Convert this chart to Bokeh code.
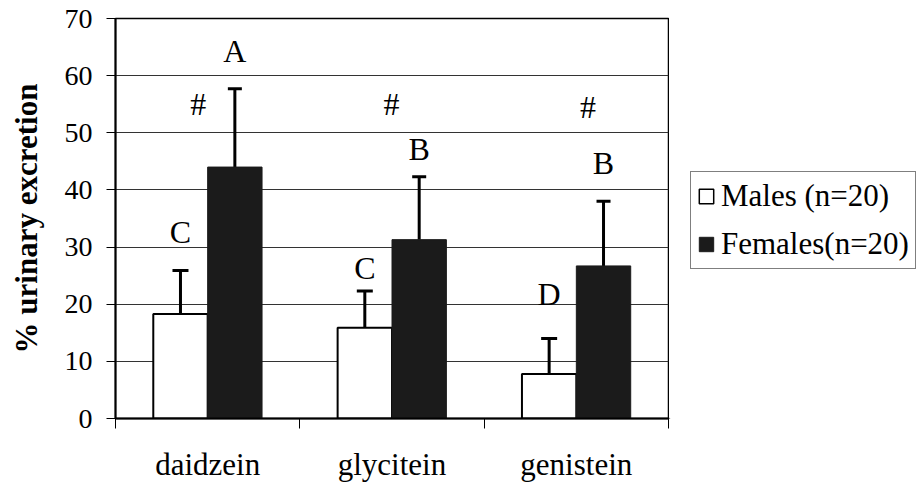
from bokeh.plotting import figure
from bokeh.layouts import row
from bokeh.models import (ColumnDataSource, Range1d, FixedTicker, Whisker, TeeHead,
                          Legend, LegendItem)
from bokeh.core.properties import value
from bokeh.embed import file_html
from bokeh.resources import INLINE

# ---- data ----
categories = ["daidzein", "glycitein", "genistein"]
males_mean = [18.3, 15.9, 7.8]
males_sd = [7.6, 6.4, 6.2]
females_mean = [44.0, 31.3, 26.7]
females_sd = [13.7, 11.0, 11.3]
males_letters = ["C", "C", "D"]
males_letter_y = [32.7, 26.3, 21.8]
females_letters = ["A", "B", "B"]
females_letter_y = [64.3, 47.2, 44.8]
hash_marks = ["#", "#", "#"]
hash_y = [55.0, 55.0, 54.6]
hash_offset = [0.449, 0.497, 0.563]
yticks = [0, 10, 20, 30, 40, 50, 60, 70]
series_names = ["Males (n=20)", "Females(n=20)"]

FONT = "Liberation Serif"
BAR_W = 0.295
M_OFF = 0.5 - BAR_W / 2
F_OFF = 0.5 + BAR_W / 2
DARK = "#1b1b1b"

n = len(categories)
mx = [i + M_OFF for i in range(n)]
fx = [i + F_OFF for i in range(n)]

msrc = ColumnDataSource(dict(x=mx, top=males_mean,
                             upper=[m + s for m, s in zip(males_mean, males_sd)],
                             lower=[m - s for m, s in zip(males_mean, males_sd)]))
fsrc = ColumnDataSource(dict(x=fx, top=females_mean,
                             upper=[m + s for m, s in zip(females_mean, females_sd)],
                             lower=list(females_mean)))

p = figure(width=669, height=484, output_backend="svg", toolbar_location=None,
           x_range=Range1d(0, n), y_range=Range1d(0, 70),
           min_border_left=115, min_border_right=1, min_border_top=18,
           min_border_bottom=64)
p.background_fill_color = "white"
p.border_fill_color = "white"
p.outline_line_color = "black"
p.outline_line_width = 1.5

# grid
p.xgrid.visible = False
p.ygrid.grid_line_color = "#333333"
p.ygrid.grid_line_width = 1

# y axis
p.yaxis.ticker = FixedTicker(ticks=yticks)
p.yaxis.axis_label = "% urinary excretion"
p.yaxis.axis_label_text_font = FONT
p.yaxis.axis_label_text_font_style = "bold"
p.yaxis.axis_label_text_font_size = "31px"
p.yaxis.axis_label_text_color = "black"
p.yaxis.axis_label_standoff = 18
p.yaxis.major_label_text_font = FONT
p.yaxis.major_label_text_font_size = "28px"
p.yaxis.major_label_text_color = "black"
p.yaxis.major_label_standoff = 14
p.yaxis.major_tick_out = 9
p.yaxis.major_tick_in = 0
p.yaxis.minor_tick_out = 0
p.yaxis.minor_tick_in = 0
p.yaxis.axis_line_width = 2
p.yaxis.axis_line_color = "black"
p.yaxis.major_tick_line_color = "black"
p.yaxis.major_tick_line_width = 1

# x axis
p.xaxis.ticker = FixedTicker(ticks=[i + 0.5 for i in range(n)],
                             minor_ticks=list(range(n + 1)))
p.xaxis.major_label_overrides = {i + 0.5: c for i, c in enumerate(categories)}
p.xaxis.major_tick_out = 0
p.xaxis.major_tick_in = 0
p.xaxis.minor_tick_out = 10
p.xaxis.minor_tick_in = 0
p.xaxis.minor_tick_line_width = 1
p.xaxis.minor_tick_line_color = "black"
p.xaxis.axis_line_width = 2
p.xaxis.axis_line_color = "black"
p.xaxis.major_label_text_font = FONT
p.xaxis.major_label_text_font_size = "31px"
p.xaxis.major_label_text_color = "black"
p.xaxis.major_label_standoff = 18

# bars
rm = p.vbar(x="x", top="top", width=BAR_W, bottom=0, source=msrc,
            fill_color="white", line_color="black", line_width=2)
rf = p.vbar(x="x", top="top", width=BAR_W, bottom=0, source=fsrc,
            fill_color=DARK, line_color=DARK, line_width=1)

# error bars
wm = Whisker(base="x", upper="upper", lower="lower", source=msrc,
             line_color="black", line_width=3,
             upper_head=TeeHead(size=16, line_width=3, line_color="black"),
             lower_head=TeeHead(size=16, line_width=3, line_color="black"))
wf = Whisker(base="x", upper="upper", lower="lower", source=fsrc,
             line_color="black", line_width=3,
             upper_head=TeeHead(size=14, line_width=3, line_color="black"),
             lower_head=None)
p.add_layout(wm)
p.add_layout(wf)

# letters
p.text(x=mx, y=males_letter_y, text=males_letters, text_font=value(FONT),
       text_font_size="32px", text_align="center", text_baseline="middle",
       text_color="black")
p.text(x=fx, y=females_letter_y, text=females_letters, text_font=value(FONT),
       text_font_size="32px", text_align="center", text_baseline="middle",
       text_color="black")
p.text(x=[i + o for i, o in enumerate(hash_offset)], y=hash_y, text=hash_marks,
       text_font=value(FONT), text_font_size="32px", text_align="center",
       text_baseline="middle", text_color="black")

# legend panel (separate figure to the right of the chart); the proxy
# renderers below sit outside the visible range and only feed the legend
pl = figure(width=247, height=484, output_backend="svg", toolbar_location=None,
            x_axis_type=None, y_axis_type=None, x_range=Range1d(0, 1),
            y_range=Range1d(0, 1), min_border=0)
pl.outline_line_color = None
pl.grid.visible = False
proxy = ColumnDataSource(dict(x=[-5.0], top=[-4.0], bottom=[-5.0]))
lm = pl.vbar(x="x", top="top", bottom="bottom", width=0.1, source=proxy,
             fill_color="white", line_color="black", line_width=1.5)
lf = pl.vbar(x="x", top="top", bottom="bottom", width=0.1, source=proxy,
             fill_color=DARK, line_color=DARK)
legend = Legend(items=[LegendItem(label=series_names[0], renderers=[lm]),
                       LegendItem(label=series_names[1], renderers=[lf])],
                location=(21, 149))
legend.label_text_font = FONT
legend.label_text_font_size = "31px"
legend.label_text_color = "black"
legend.glyph_width = 18
legend.glyph_height = 18
legend.label_standoff = 6
legend.padding = 6
legend.spacing = 12
legend.margin = 0
legend.border_line_color = "black"
legend.border_line_width = 1
legend.background_fill_color = "white"
legend.background_fill_alpha = 1
pl.add_layout(legend, "center")

layout = row(p, pl, spacing=0)
open("out.html", "w").write(file_html(layout, INLINE))
